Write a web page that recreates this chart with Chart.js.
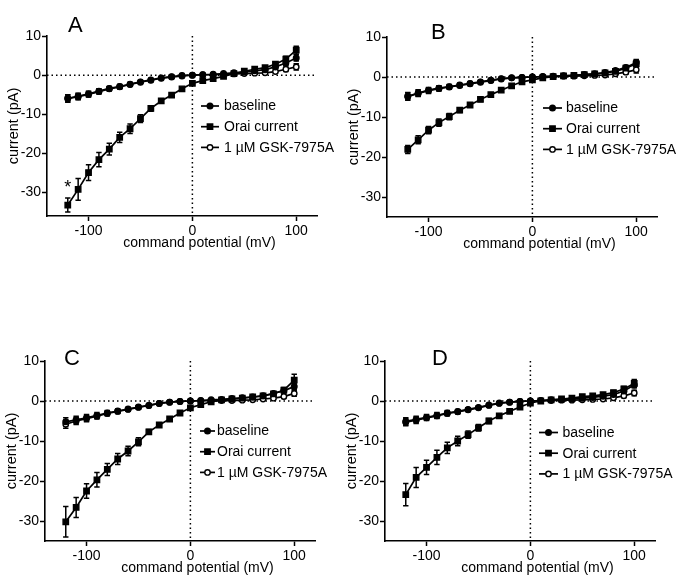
<!DOCTYPE html>
<html>
<head>
<meta charset="utf-8">
<script src="https://cdn.jsdelivr.net/npm/chart.js"></script>
<style>
  body { margin: 0; background: #fff; width: 681px; height: 581px; overflow: hidden; position: relative; }
  canvas { position: absolute; }
</style>
</head>
<body>
<canvas id="panel-a" width="340" height="256" style="left:0px;top:0px"></canvas>
<canvas id="panel-b" width="340" height="256" style="left:340px;top:1px"></canvas>
<canvas id="panel-c" width="340" height="256" style="left:-2px;top:325px"></canvas>
<canvas id="panel-d" width="340" height="256" style="left:338px;top:325px"></canvas>
<script>
// command potentials (mV)
const voltages = [-120, -110, -100, -90, -80, -70, -60, -50, -40, -30, -20, -10, 0, 10, 20, 30, 40, 50, 60, 70, 80, 90, 100];
const xTicks = [-100, 0, 100];
const yTicks = [10, 0, -10, -20, -30];
const seriesLabels = ["baseline", "Orai current", "1 \u00b5M GSK-7975A"];
const xTitle = "command potential (mV)";
const yTitle = "current (pA)";

// panel A
const baselineA = [-6.0, -5.5, -4.9, -4.2, -3.5, -3.0, -2.4, -1.8, -1.3, -0.8, -0.5, -0.2, 0, 0.1, 0.2, 0.4, 0.6, 0.8, 1.1, 1.4, 2.1, 3.1, 4.4];
const oraiA = [-33.2, -29.2, -24.9, -21.6, -18.9, -15.9, -13.7, -11.1, -8.5, -6.6, -5.1, -3.5, -2.1, -1.4, -0.9, -0.3, 0.4, 1.0, 1.5, 1.9, 2.8, 4.1, 6.4];
const gskA = [-5.9, -5.4, -4.8, -4.1, -3.4, -2.9, -2.3, -1.7, -1.2, -0.7, -0.4, -0.1, 0, 0.1, 0.1, 0.2, 0.3, 0.4, 0.5, 0.6, 0.9, 1.5, 2.1];
const oraiErrA = [1.8, 2.8, 2.0, 1.8, 1.5, 1.3, 1.2, 1.0, 0.7, 0.4, 0.3, 0.3, 0.2, 0.2, 0.2, 0.2, 0.2, 0.3, 0.3, 0.4, 0.5, 0.7, 1.0];
const ctrlErrA = [0.9, 0.8, 0.7, 0.6, 0.5, 0.5, 0.4, 0.3, 0.3, 0.2, 0.2, 0.1, 0.1, 0.1, 0.1, 0.1, 0.2, 0.2, 0.3, 0.3, 0.4, 0.6, 0.8];

// panel B
const baselineB = [-4.9, -4.1, -3.4, -2.9, -2.5, -2.1, -1.7, -1.3, -0.9, -0.5, -0.2, -0.1, 0, 0.1, 0.2, 0.3, 0.4, 0.6, 0.8, 1.1, 1.6, 2.4, 3.6];
const oraiB = [-18.1, -15.7, -13.3, -11.4, -9.9, -8.3, -7.0, -5.6, -4.4, -3.3, -2.2, -1.2, -0.7, -0.2, 0.1, 0.3, 0.4, 0.6, 0.8, 1.0, 1.4, 2.2, 3.3];
const gskB = [-4.8, -4.0, -3.3, -2.8, -2.4, -2.0, -1.6, -1.2, -0.8, -0.4, -0.2, -0.1, 0, 0.1, 0.1, 0.2, 0.2, 0.3, 0.4, 0.5, 0.8, 1.2, 1.8];
const oraiErrB = [1.0, 1.0, 0.9, 0.9, 0.8, 0.6, 0.5, 0.5, 0.4, 0.3, 0.3, 0.2, 0.2, 0.1, 0.1, 0.1, 0.1, 0.2, 0.2, 0.3, 0.4, 0.6, 0.9];
const ctrlErrB = [0.9, 0.8, 0.7, 0.6, 0.5, 0.4, 0.4, 0.3, 0.3, 0.2, 0.2, 0.1, 0.1, 0.1, 0.1, 0.1, 0.1, 0.2, 0.2, 0.3, 0.4, 0.5, 0.8];

// panel C
const baselineC = [-5.2, -4.7, -4.2, -3.6, -3.0, -2.5, -2.0, -1.5, -1.1, -0.6, -0.3, -0.1, 0, 0.1, 0.3, 0.4, 0.6, 0.8, 1.0, 1.3, 1.9, 2.6, 3.6];
const oraiC = [-30.2, -26.6, -22.5, -19.7, -17.1, -14.5, -12.5, -10.2, -7.7, -6.0, -4.5, -3.0, -1.7, -0.9, -0.2, 0.3, 0.5, 0.7, 1.0, 1.3, 1.8, 2.7, 5.2];
const gskC = [-5.8, -5.0, -4.4, -3.8, -3.1, -2.6, -2.1, -1.6, -1.1, -0.6, -0.3, -0.1, 0, 0.1, 0.1, 0.1, 0.1, 0.2, 0.3, 0.5, 0.7, 1.1, 1.9];
const oraiErrC = [3.8, 2.5, 1.8, 1.8, 1.5, 1.4, 1.2, 1.0, 0.6, 0.5, 0.4, 0.3, 0.3, 0.2, 0.2, 0.2, 0.2, 0.3, 0.3, 0.4, 0.5, 0.7, 1.5];
const ctrlErrC = [1.0, 0.9, 0.8, 0.7, 0.6, 0.5, 0.4, 0.4, 0.3, 0.2, 0.2, 0.1, 0.1, 0.1, 0.1, 0.1, 0.2, 0.2, 0.3, 0.3, 0.4, 0.5, 0.7];

// panel D
const baselineD = [-5.1, -4.6, -4.1, -3.6, -3.0, -2.6, -2.1, -1.6, -1.0, -0.5, -0.3, -0.1, 0, 0.1, 0.3, 0.4, 0.5, 0.7, 0.9, 1.2, 1.6, 2.5, 4.0];
const oraiD = [-23.4, -19.1, -16.6, -14.1, -11.7, -10.0, -8.4, -6.7, -5.0, -3.7, -2.6, -1.5, -0.5, 0, 0.3, 0.5, 0.7, 1.1, 1.3, 1.6, 2.1, 3.0, 4.4];
const gskD = [-5.3, -4.8, -4.2, -3.7, -3.1, -2.7, -2.2, -1.7, -1.1, -0.6, -0.3, -0.1, 0, 0.1, 0.1, 0.2, 0.2, 0.3, 0.4, 0.5, 0.8, 1.3, 2.0];
const oraiErrD = [2.8, 2.5, 1.8, 1.8, 1.4, 1.2, 0.9, 0.8, 0.6, 0.4, 0.3, 0.3, 0.2, 0.2, 0.2, 0.2, 0.2, 0.3, 0.3, 0.4, 0.5, 0.6, 1.0];
const ctrlErrD = [0.9, 0.8, 0.7, 0.7, 0.6, 0.5, 0.4, 0.3, 0.3, 0.2, 0.2, 0.1, 0.1, 0.1, 0.1, 0.1, 0.2, 0.2, 0.3, 0.3, 0.4, 0.5, 0.7];

const FONT = "'Liberation Sans', Arial, Helvetica, sans-serif";
Chart.defaults.font.family = FONT;
Chart.defaults.color = "#000";

// marker styles per series
const markers = [
  { style: "circle", radius: 2.8, fill: "#000" },
  { style: "rect", radius: 3.8, fill: "#000" },
  { style: "circle", radius: 2.7, fill: "#fff" },
];

function drawMarker(ctx, m, x, y) {
  ctx.beginPath();
  if (m.style === "rect") {
    const s = m.radius * Math.SQRT1_2;
    ctx.rect(x - s, y - s, 2 * s, 2 * s);
  } else {
    ctx.arc(x, y, m.radius, 0, Math.PI * 2);
  }
  ctx.fillStyle = m.fill;
  ctx.fill();
  ctx.lineWidth = 1.4;
  ctx.strokeStyle = "#000";
  ctx.stroke();
}

// zero lines, error bars, legend, panel letter, x title
const panelDecor = {
  id: "panelDecor",
  beforeDatasetsDraw(chart, args, opts) {
    const { ctx, chartArea } = chart;
    const xs = chart.scales.x;
    const ys = chart.scales.y;
    ctx.save();
    ctx.strokeStyle = "#000";
    ctx.lineWidth = 1.5;
    ctx.setLineDash([1.5, 3]);
    const y0 = ys.getPixelForValue(0);
    const x0 = xs.getPixelForValue(0);
    ctx.beginPath();
    ctx.moveTo(chartArea.left, y0);
    ctx.lineTo(chartArea.right, y0);
    ctx.moveTo(x0, chartArea.top);
    ctx.lineTo(x0, chartArea.bottom);
    ctx.stroke();
    ctx.setLineDash([]);

    // error bars
    ctx.lineWidth = 1.5;
    chart.data.datasets.forEach((ds, i) => {
      const errs = opts.errors[i];
      ds.data.forEach((p, j) => {
        const e = errs[j];
        if (!e) return;
        const x = xs.getPixelForValue(p.x);
        const yt = ys.getPixelForValue(p.y + e);
        const yb = ys.getPixelForValue(p.y - e);
        ctx.beginPath();
        ctx.moveTo(x, yt);
        ctx.lineTo(x, yb);
        ctx.moveTo(x - 2.7, yt);
        ctx.lineTo(x + 2.7, yt);
        ctx.moveTo(x - 2.7, yb);
        ctx.lineTo(x + 2.7, yb);
        ctx.stroke();
      });
    });
    ctx.restore();
  },
  afterDraw(chart, args, opts) {
    const { ctx } = chart;
    const xs = chart.scales.x;
    const ys = chart.scales.y;
    ctx.save();
    ctx.fillStyle = "#000";

    // panel letter
    ctx.font = "22px " + FONT;
    ctx.textAlign = "left";
    ctx.textBaseline = "alphabetic";
    ctx.fillText(opts.letter, opts.letterX, opts.letterY);

    // x axis title
    ctx.font = "14px " + FONT;
    ctx.textAlign = "center";
    ctx.fillText(xTitle, 199.5, 246.5);

    // legend
    const lg = opts.legend;
    chart.data.datasets.forEach((ds, i) => {
      const y = lg.y + i * 20.7;
      ctx.strokeStyle = "#000";
      ctx.lineWidth = 1.7;
      ctx.beginPath();
      ctx.moveTo(lg.x0, y);
      ctx.lineTo(lg.x1, y);
      ctx.stroke();
      drawMarker(ctx, markers[i], (lg.x0 + lg.x1) / 2, y);
      ctx.fillStyle = "#000";
      ctx.font = "14px " + FONT;
      ctx.textAlign = "left";
      ctx.textBaseline = "middle";
      ctx.fillText(ds.label, lg.textX, y + 0.5);
    });

    // significance mark
    if (opts.star) {
      const s = opts.star;
      const p = chart.data.datasets[s.dataset].data[s.index];
      const e = opts.errors[s.dataset][s.index];
      ctx.font = "18px " + FONT;
      ctx.textAlign = "center";
      ctx.textBaseline = "alphabetic";
      ctx.fillText("*", xs.getPixelForValue(p.x), ys.getPixelForValue(p.y + e) - 5);
    }
    ctx.restore();
  },
};

function makePanel(id, cfg) {
  const series = [cfg.baseline, cfg.orai, cfg.gsk];
  const datasets = series.map((vals, i) => ({
    label: seriesLabels[i],
    data: voltages.map((v, j) => ({ x: v, y: vals[j] })),
    borderColor: "#000",
    borderWidth: 1.7,
    pointStyle: markers[i].style,
    pointRadius: markers[i].radius,
    pointBackgroundColor: markers[i].fill,
    pointBorderColor: "#000",
    pointBorderWidth: 1.4,
    tension: 0,
    fill: false,
  }));

  return new Chart(document.getElementById(id), {
    type: "line",
    data: { datasets },
    plugins: [panelDecor],
    options: {
      responsive: false,
      animation: false,
      events: [],
      layout: { padding: { top: 36, right: 23, left: 0, bottom: 0 } },
      plugins: {
        legend: { display: false },
        tooltip: { enabled: false },
        panelDecor: {
          letter: cfg.letter,
          letterX: cfg.letterX,
          letterY: cfg.letterY,
          legend: cfg.legend,
          errors: [cfg.ctrlErr, cfg.oraiErr, cfg.ctrlErr],
          star: cfg.star,
        },
      },
      scales: {
        x: {
          type: "linear",
          min: -140,
          max: 120,
          afterBuildTicks: (s) => {
            s.ticks = xTicks.map((v) => ({ value: v }));
          },
          afterFit: (s) => {
            s.height = 256 - 216;
          },
          grid: { display: true, drawOnChartArea: false, drawTicks: true, tickLength: 5, tickColor: "#000", tickWidth: 1.5 },
          border: { display: true, color: "#000", width: 1.6 },
          ticks: { color: "#000", font: { size: 14 }, padding: 2, maxRotation: 0, autoSkip: false },
        },
        y: {
          type: "linear",
          min: cfg.yMin,
          max: 10,
          afterBuildTicks: (s) => {
            s.ticks = yTicks.map((v) => ({ value: v }));
          },
          afterFit: (s) => {
            s.width = 47;
          },
          title: { display: true, text: yTitle, color: "#000", font: { size: 14.5 }, padding: { top: 5, bottom: 0 } },
          grid: { display: true, drawOnChartArea: false, drawTicks: true, tickLength: 5, tickColor: "#000", tickWidth: 1.5 },
          border: { display: true, color: "#000", width: 1.6 },
          ticks: { color: "#000", font: { size: 14 }, padding: 1 },
        },
      },
    },
  });
}

makePanel("panel-a", {
  letter: "A", letterX: 68, letterY: 32,
  baseline: baselineA, orai: oraiA, gsk: gskA, oraiErr: oraiErrA, ctrlErr: ctrlErrA,
  yMin: -36,
  legend: { x0: 201, x1: 219, textX: 224, y: 106 },
  star: { dataset: 1, index: 0 },
});
makePanel("panel-b", {
  letter: "B", letterX: 91, letterY: 37.5,
  baseline: baselineB, orai: oraiB, gsk: gskB, oraiErr: oraiErrB, ctrlErr: ctrlErrB,
  yMin: -35,
  legend: { x0: 203, x1: 222, textX: 226, y: 107 },
});
makePanel("panel-c", {
  letter: "C", letterX: 66, letterY: 40,
  baseline: baselineC, orai: oraiC, gsk: gskC, oraiErr: oraiErrC, ctrlErr: ctrlErrC,
  yMin: -35,
  legend: { x0: 202, x1: 217, textX: 219, y: 106 },
});
makePanel("panel-d", {
  letter: "D", letterX: 94, letterY: 39.5,
  baseline: baselineD, orai: oraiD, gsk: gskD, oraiErr: oraiErrD, ctrlErr: ctrlErrD,
  yMin: -35,
  legend: { x0: 201, x1: 220, textX: 224.5, y: 107.5 },
});
</script>
</body>
</html>
